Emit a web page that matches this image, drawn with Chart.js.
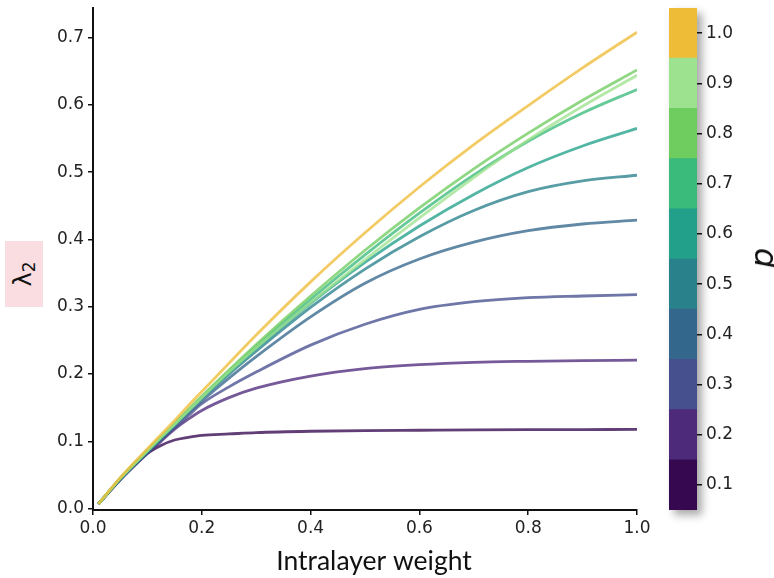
<!DOCTYPE html>
<html>
<head>
<meta charset="utf-8">
<script src="https://cdn.jsdelivr.net/npm/chart.js@4.4.0/dist/chart.umd.min.js"></script>
<style>
html, body { margin: 0; padding: 0; background: #fff; }
#wrap { position: relative; width: 774px; height: 578px; overflow: hidden; }
#main { position: absolute; left: 0; top: 0; }
#cbar { position: absolute; left: 640px; top: 0; }
#ylab { position: absolute; left: 5px; top: 241px; width: 38px; height: 66px; background: #f9dde0; }
#ylab span { position: absolute; left: 50%; top: 50%; transform: translate(-50%, -50%) rotate(-90deg);
  font-family: "DejaVu Sans"; font-size: 24px; color: #111; white-space: nowrap; }
#ylab sub { font-size: 17px; vertical-align: -4px; }
#plab { position: absolute; left: 762px; top: 258px; transform: translate(-50%, -50%) rotate(-90deg);
  font-family: "DejaVu Sans"; font-style: italic; font-size: 32px; color: #111; }
</style>
</head>
<body>
<div id="wrap">
  <canvas id="main" width="774" height="578"></canvas>
  <canvas id="cbar" width="134" height="578"></canvas>
  <div id="ylab"><span>λ<sub>2</sub></span></div>
  <div id="plab">p</div>
</div>
<script>
// intralayer weight samples
var xs = [0.01, 0.05, 0.1, 0.125, 0.15, 0.175, 0.2, 0.25, 0.3, 0.4, 0.5, 0.6, 0.7, 0.8, 0.9, 1.0];

// lambda_2 for each p
var lam_p01 = [0.007, 0.043, 0.082, 0.094, 0.102, 0.106, 0.109, 0.111, 0.113, 0.115, 0.116, 0.1165, 0.117, 0.1173, 0.1175, 0.1177];
var lam_p02 = [0.007, 0.043, 0.082, 0.100, 0.118, 0.133, 0.146, 0.165, 0.179, 0.197, 0.208, 0.214, 0.2175, 0.219, 0.220, 0.2207];
var lam_p03 = [0.007, 0.043, 0.083, 0.102, 0.120, 0.138, 0.156, 0.181, 0.203, 0.243, 0.274, 0.296, 0.3075, 0.3135, 0.316, 0.318];
var lam_p04 = [0.007, 0.044, 0.084, 0.104, 0.123, 0.142, 0.160, 0.194, 0.226, 0.285, 0.335, 0.371, 0.396, 0.413, 0.423, 0.4287];
var lam_p05 = [0.007, 0.044, 0.085, 0.105, 0.125, 0.145, 0.164, 0.200, 0.234, 0.299, 0.356, 0.404, 0.443, 0.471, 0.487, 0.4955];
var lam_p06 = [0.007, 0.044, 0.085, 0.105, 0.125, 0.145, 0.165, 0.202, 0.238, 0.305, 0.366, 0.420, 0.467, 0.507, 0.539, 0.565];
var lam_p07 = [0.007, 0.045, 0.086, 0.106, 0.126, 0.146, 0.166, 0.204, 0.241, 0.311, 0.377, 0.439, 0.496, 0.546, 0.588, 0.623];
var lam_p08 = [0.007, 0.045, 0.086, 0.106, 0.126, 0.147, 0.167, 0.206, 0.244, 0.316, 0.384, 0.447, 0.505, 0.558, 0.607, 0.652];
var lam_p09 = [0.007, 0.045, 0.086, 0.106, 0.125, 0.145, 0.165, 0.203, 0.239, 0.306, 0.370, 0.432, 0.492, 0.548, 0.598, 0.644];
var lam_p10 = [0.007, 0.046, 0.089, 0.110, 0.131, 0.153, 0.174, 0.216, 0.258, 0.337, 0.410, 0.478, 0.541, 0.599, 0.655, 0.708];

var pValues = [0.1, 0.2, 0.3, 0.4, 0.5, 0.6, 0.7, 0.8, 0.9, 1.0];
var series = [lam_p01, lam_p02, lam_p03, lam_p04, lam_p05, lam_p06, lam_p07, lam_p08, lam_p09, lam_p10];
var pColors = ['#35084f', '#4e2a7b', '#47508f', '#34678c', '#29818c', '#22a08a', '#3aba7b', '#6fcc5f', '#9de28e', '#efbc38'];

var xTicks = [0, 0.2, 0.4, 0.6, 0.8, 1.0];
var yTicks = [0, 0.1, 0.2, 0.3, 0.4, 0.5, 0.6, 0.7];
var xTitle = 'Intralayer weight';

function hexA(hex, a) {
	var r = parseInt(hex.slice(1, 3), 16), g = parseInt(hex.slice(3, 5), 16), b = parseInt(hex.slice(5, 7), 16);
	return 'rgba(' + r + ',' + g + ',' + b + ',' + a + ')';
}

// no automatic padding round the axes, the plot box is fixed
function noPad(s) {
	s.paddingTop = 0; s.paddingBottom = 0; s.paddingLeft = 0; s.paddingRight = 0;
}

var tickFont = { family: 'DejaVu Sans', size: 17 };

var xTitlePlugin = {
	id: 'xTitle',
	afterDraw: function(chart) {
		var c = chart.ctx;
		c.save();
		c.font = '26.5px Lato';
		c.fillStyle = '#111';
		c.textAlign = 'center';
		c.textBaseline = 'alphabetic';
		c.fillText(xTitle, 374, 570);
		c.restore();
	}
};

new Chart(document.getElementById('main').getContext('2d'), {
	type: 'line',
	data: {
		datasets: series.map(function(vals, i) {
			return {
				label: 'p = ' + pValues[i],
				data: xs.map(function(x, j) { return { x: x, y: vals[j] }; }),
				borderColor: hexA(pColors[i], 0.78),
				borderWidth: 2.8,
				pointRadius: 0,
				fill: false,
				cubicInterpolationMode: 'monotone',
				order: pValues.length - i
			};
		})
	},
	options: {
		responsive: false,
		animation: false,
		devicePixelRatio: 1,
		layout: { autoPadding: false, padding: { left: 0, top: 8, right: 137, bottom: 0 } },
		plugins: { legend: { display: false }, tooltip: { enabled: false } },
		scales: {
			x: {
				type: 'linear', min: 0, max: 1,
				afterBuildTicks: function(s) { s.ticks = xTicks.map(function(v) { return { value: v }; }); },
				afterFit: function(s) { s.height = 68; noPad(s); },
				ticks: { font: tickFont, color: '#222', padding: 3, maxRotation: 0,
					callback: function(v) { return v.toFixed(1); } },
				grid: { display: true, drawOnChartArea: false, drawTicks: true, tickLength: 5, color: '#111', lineWidth: 1.5 },
				border: { display: true, color: '#111', width: 2 }
			},
			y: {
				min: -0.002, max: 0.744,
				afterBuildTicks: function(s) { s.ticks = yTicks.map(function(v) { return { value: v }; }); },
				afterFit: function(s) { s.width = 93; noPad(s); },
				ticks: { font: tickFont, color: '#222', padding: 4,
					callback: function(v) { return v.toFixed(1); } },
				grid: { display: true, drawOnChartArea: false, drawTicks: true, tickLength: 5, color: '#111', lineWidth: 1.5 },
				border: { display: true, color: '#111', width: 2 }
			}
		}
	},
	plugins: [xTitlePlugin]
});

// soft shadow behind the colorbar
var cbarShadow = {
	id: 'cbarShadow',
	beforeDraw: function(chart) {
		var a = chart.chartArea, c = chart.ctx;
		c.save();
		c.shadowColor = 'rgba(0,0,0,0.35)';
		c.shadowBlur = 9;
		c.shadowOffsetX = 5;
		c.shadowOffsetY = 5;
		c.fillStyle = '#fff';
		c.fillRect(a.left, a.top, a.right - a.left, a.bottom - a.top);
		c.restore();
	}
};

new Chart(document.getElementById('cbar').getContext('2d'), {
	type: 'bar',
	data: {
		labels: ['p'],
		datasets: pValues.map(function(p, i) {
			return {
				label: String(p),
				data: [[p - 0.05, p + 0.05]],
				backgroundColor: pColors[i],
				borderWidth: 0,
				grouped: false,
				barPercentage: 1,
				categoryPercentage: 1
			};
		})
	},
	options: {
		responsive: false,
		animation: false,
		devicePixelRatio: 1,
		layout: { autoPadding: false, padding: { left: 29, top: 8, right: 0, bottom: 68 } },
		plugins: { legend: { display: false }, tooltip: { enabled: false } },
		scales: {
			x: { display: false },
			y: {
				position: 'right', min: 0.05, max: 1.05,
				afterBuildTicks: function(s) { s.ticks = pValues.map(function(v) { return { value: v }; }); },
				afterFit: function(s) { s.width = 77; noPad(s); },
				ticks: { font: tickFont, color: '#222', padding: 4,
					callback: function(v) { return v.toFixed(1); } },
				grid: { display: true, drawOnChartArea: false, drawTicks: true, tickLength: 5, color: '#111', lineWidth: 1.5 },
				border: { display: false }
			}
		}
	},
	plugins: [cbarShadow]
});
</script>
</body>
</html>
